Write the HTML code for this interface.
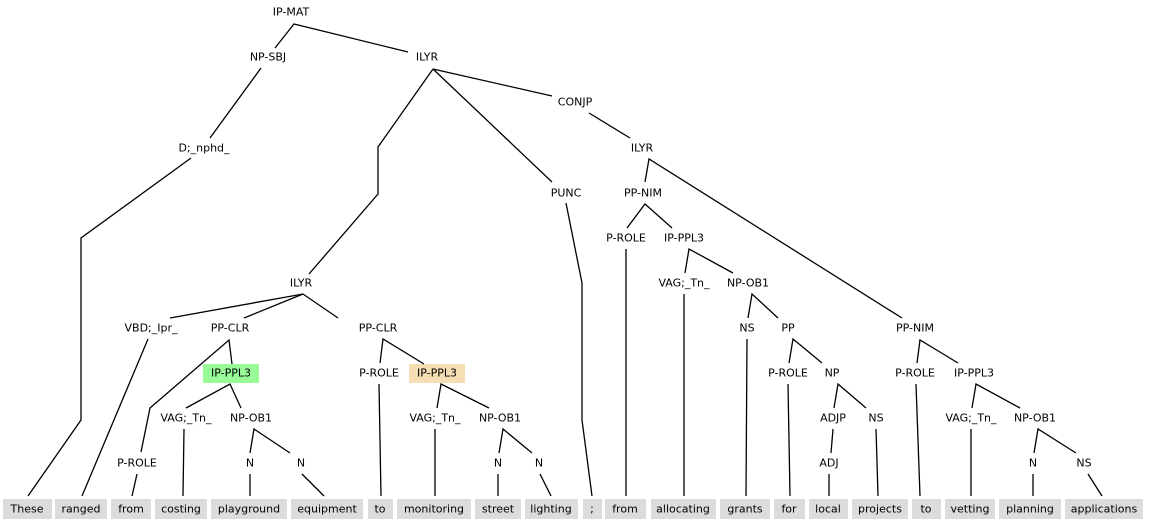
<!DOCTYPE html>
<html><head><meta charset="utf-8"><style>
html,body{margin:0;padding:0;background:#fff;}
svg text{font-family:"DejaVu Sans","Liberation Sans",sans-serif;font-size:11px;fill:#000;text-anchor:middle;dominant-baseline:central;}
</style></head><body>
<svg width="1149" height="523" viewBox="0 0 1149 523" xmlns="http://www.w3.org/2000/svg">
<g fill="#dcdcdc">
<rect x="3" y="499" width="49" height="20"/>
<rect x="55" y="499" width="52" height="20"/>
<rect x="111" y="499" width="40" height="20"/>
<rect x="155" y="499" width="52" height="20"/>
<rect x="211" y="499" width="76" height="20"/>
<rect x="291" y="499" width="72" height="20"/>
<rect x="368" y="499" width="25" height="20"/>
<rect x="397" y="499" width="74" height="20"/>
<rect x="475" y="499" width="46" height="20"/>
<rect x="525" y="499" width="53" height="20"/>
<rect x="583" y="499" width="19" height="20"/>
<rect x="605" y="499" width="41" height="20"/>
<rect x="651" y="499" width="65" height="20"/>
<rect x="720" y="499" width="50" height="20"/>
<rect x="774" y="499" width="31" height="20"/>
<rect x="809" y="499" width="39" height="20"/>
<rect x="852" y="499" width="56" height="20"/>
<rect x="912" y="499" width="29" height="20"/>
<rect x="945" y="499" width="50" height="20"/>
<rect x="999" y="499" width="62" height="20"/>
<rect x="1065" y="499" width="78" height="20"/>
</g>
<rect x="203" y="364" width="56" height="19" fill="#98fb98"/>
<rect x="409" y="364" width="56" height="19" fill="#f5deb3"/>
<g stroke="#000" stroke-width="1.3" fill="none">
<polyline points="275,48 294,24 408,52"/>
<line x1="261" y1="68" x2="210" y2="138"/>
<polyline points="191,158 81,238 81,420 28,496"/>
<polyline points="433,69 378,147 378,194 309,274"/>
<polyline points="433,69 552,96"/>
<line x1="433" y1="69" x2="552" y2="182"/>
<line x1="589" y1="113" x2="630" y2="138"/>
<polyline points="645,182 649,159 902,318"/>
<polyline points="566,203 582,283 582,420 592,496"/>
<polyline points="627,228 645,204 672,228"/>
<line x1="626" y1="249" x2="626" y2="496"/>
<polyline points="685,273 689,249 733,273"/>
<line x1="684" y1="294" x2="684" y2="496"/>
<polyline points="748,318 752,294 778,318"/>
<line x1="747" y1="339" x2="746" y2="496"/>
<polyline points="789,363 793,339 822,363"/>
<line x1="788" y1="384" x2="790" y2="496"/>
<polyline points="834,408 838,384 866,408"/>
<line x1="833" y1="429" x2="831" y2="453"/>
<line x1="829" y1="474" x2="829" y2="496"/>
<line x1="876" y1="429" x2="878" y2="496"/>
<polyline points="917,363 920,340 958,363"/>
<line x1="916" y1="384" x2="920" y2="496"/>
<polyline points="972,408 976,384 1020,408"/>
<line x1="971" y1="429" x2="971" y2="496"/>
<polyline points="1034,453 1038,429 1076,453"/>
<line x1="1033" y1="474" x2="1033" y2="496"/>
<line x1="1088" y1="474" x2="1102" y2="496"/>
<polyline points="170,318 303,294 338,318"/>
<line x1="303" y1="294" x2="244" y2="318"/>
<line x1="148" y1="339" x2="82" y2="496"/>
<polyline points="232,364 229,340 150,408 141,452"/>
<line x1="137" y1="474" x2="132" y2="496"/>
<polyline points="186,408 230,384 241,408"/>
<polyline points="250,453 254,429 290,453"/>
<line x1="184" y1="429" x2="183" y2="496"/>
<line x1="250" y1="474" x2="250" y2="496"/>
<line x1="302" y1="474" x2="324" y2="496"/>
<polyline points="380,363 383,339 424,364"/>
<line x1="379" y1="384" x2="381" y2="496"/>
<polyline points="437,408 441,384 489,408"/>
<line x1="435" y1="429" x2="435" y2="496"/>
<polyline points="499,453 503,429 532,453"/>
<line x1="498" y1="474" x2="498" y2="496"/>
<line x1="540" y1="474" x2="551" y2="496"/>
</g>
<g>
<text x="291" y="12">IP-MAT</text>
<text x="268" y="57">NP-SBJ</text>
<text x="427" y="57">ILYR</text>
<text x="575" y="102">CONJP</text>
<text x="204" y="148">D;_nphd_</text>
<text x="642" y="148">ILYR</text>
<text x="566" y="193">PUNC</text>
<text x="643" y="193">PP-NIM</text>
<text x="626" y="238">P-ROLE</text>
<text x="684" y="238">IP-PPL3</text>
<text x="684" y="283">VAG;_Tn_</text>
<text x="748" y="283">NP-OB1</text>
<text x="301" y="283">ILYR</text>
<text x="151" y="328">VBD;_Ipr_</text>
<text x="230" y="328">PP-CLR</text>
<text x="378" y="328">PP-CLR</text>
<text x="747" y="328">NS</text>
<text x="788" y="328">PP</text>
<text x="915" y="328">PP-NIM</text>
<text x="231" y="373">IP-PPL3</text>
<text x="379" y="373">P-ROLE</text>
<text x="437" y="373">IP-PPL3</text>
<text x="788" y="373">P-ROLE</text>
<text x="832" y="373">NP</text>
<text x="915" y="373">P-ROLE</text>
<text x="974" y="373">IP-PPL3</text>
<text x="186" y="418">VAG;_Tn_</text>
<text x="251" y="418">NP-OB1</text>
<text x="435" y="418">VAG;_Tn_</text>
<text x="500" y="418">NP-OB1</text>
<text x="833" y="418">ADJP</text>
<text x="876" y="418">NS</text>
<text x="971" y="418">VAG;_Tn_</text>
<text x="1035" y="418">NP-OB1</text>
<text x="137" y="463">P-ROLE</text>
<text x="250" y="463">N</text>
<text x="301" y="463">N</text>
<text x="498" y="463">N</text>
<text x="539" y="463">N</text>
<text x="829" y="463">ADJ</text>
<text x="1033" y="463">N</text>
<text x="1084" y="463">NS</text>
<text x="27" y="509">These</text>
<text x="81" y="509">ranged</text>
<text x="131" y="509">from</text>
<text x="181" y="509">costing</text>
<text x="249" y="509">playground</text>
<text x="327" y="509">equipment</text>
<text x="380" y="509">to</text>
<text x="434" y="509">monitoring</text>
<text x="498" y="509">street</text>
<text x="551" y="509">lighting</text>
<text x="592" y="509">;</text>
<text x="625" y="509">from</text>
<text x="683" y="509">allocating</text>
<text x="745" y="509">grants</text>
<text x="789" y="509">for</text>
<text x="828" y="509">local</text>
<text x="880" y="509">projects</text>
<text x="926" y="509">to</text>
<text x="970" y="509">vetting</text>
<text x="1030" y="509">planning</text>
<text x="1104" y="509">applications</text>
</g>
</svg>
</body></html>
